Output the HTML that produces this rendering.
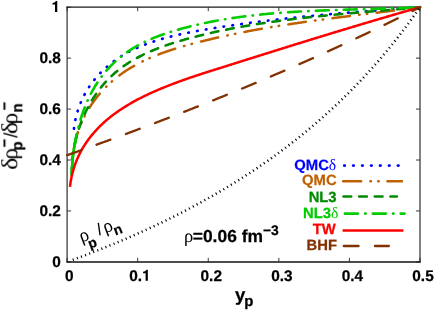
<!DOCTYPE html>
<html><head><meta charset="utf-8"><title>plot</title>
<style>html,body{margin:0;padding:0;background:#fff}svg{display:block}text{font-family:"Liberation Sans", sans-serif;font-weight:bold;text-rendering:geometricPrecision;stroke-width:0.25px;stroke-linejoin:round}.b{stroke:#000}</style></head>
<body>
<svg width="436" height="310" viewBox="0 0 436 310">
<defs><filter id="bl" x="0" y="0" width="436" height="310" filterUnits="userSpaceOnUse"><feGaussianBlur stdDeviation="0.35"/></filter></defs>
<rect width="436" height="310" fill="#fff"/>
<g filter="url(#bl)">
<path d="M67.10,6.60 V262.60 M420.00,6.60 V262.60" fill="none" stroke="#303030" stroke-width="1.2"/>
<path d="M66.50,7.20 H420.60" fill="none" stroke="#1a1a1a" stroke-width="1.3"/>
<path d="M66.50,261.90 H420.60" fill="none" stroke="#101010" stroke-width="1.5"/>
<path d="M67.10,261.90 v-4 M67.10,7.20 v4 M137.68,261.90 v-4 M137.68,7.20 v4 M208.26,261.90 v-4 M208.26,7.20 v4 M278.84,261.90 v-4 M278.84,7.20 v4 M349.42,261.90 v-4 M349.42,7.20 v4 M420.00,261.90 v-4 M420.00,7.20 v4 M67.10,261.90 h4 M420.00,261.90 h-4 M67.10,210.96 h4 M420.00,210.96 h-4 M67.10,160.02 h4 M420.00,160.02 h-4 M67.10,109.08 h4 M420.00,109.08 h-4 M67.10,58.14 h4 M420.00,58.14 h-4 M67.10,7.20 h4 M420.00,7.20 h-4" fill="none" stroke="#222" stroke-width="0.9"/>
<path d="M73.85,129.61 L73.97,128.52 L74.10,127.44 L74.25,126.37 L74.40,125.31 L74.57,124.25 L74.75,123.19 L74.93,122.14 L75.13,121.10 L75.34,120.07 L75.56,119.04 L75.78,118.02 L76.02,117.00 L76.27,115.99 L76.53,114.98 L76.80,113.99 L77.08,112.99 L77.36,112.01 L77.66,111.03 L77.97,110.06 L78.29,109.09 L78.61,108.13 L78.95,107.18 L79.29,106.23 L79.65,105.29 L80.01,104.35 L80.39,103.42 L80.77,102.50 L81.16,101.58 L81.56,100.67 L81.97,99.77 L82.38,98.87 L82.81,97.98 L83.24,97.09 L83.69,96.21 L84.14,95.34 L84.60,94.47 L85.07,93.61 L85.54,92.76 L86.03,91.91 L86.52,91.07 L87.02,90.23 L87.53,89.40 L88.05,88.58 L88.57,87.77 L89.11,86.96 L89.65,86.15 L90.19,85.36 L90.75,84.57 L91.31,83.78 L91.88,83.00 L92.46,82.23 L93.04,81.47 L93.63,80.71 L94.23,79.95 L94.84,79.21 L95.45,78.47 L96.07,77.73 L96.69,77.01 L97.33,76.29 L97.97,75.57 L98.61,74.87 L99.26,74.16 L99.92,73.47 L100.59,72.78 L101.26,72.10 L101.94,71.42 L102.62,70.75 L103.31,70.09 L104.01,69.43 L104.71,68.78 L105.41,68.14 L106.13,67.50 L106.85,66.87 L107.57,66.25 L108.30,65.63 L109.04,65.02 L109.78,64.41 L110.52,63.81 L111.27,63.22 L112.03,62.63 L112.79,62.06 L113.56,61.48 L114.33,60.92 L115.11,60.36 L115.89,59.80 L116.67,59.26 L117.46,58.72 L118.26,58.18 L119.06,57.66 L119.86,57.13 L120.67,56.62 L121.48,56.11 L122.30,55.61 L123.12,55.12 L123.94,54.63 L124.77,54.15 L125.61,53.67 L126.44,53.20 L127.28,52.74 L128.13,52.28 L128.98,51.83 L129.83,51.38 L130.69,50.94 L131.55,50.51 L132.41,50.08 L133.28,49.66 L134.15,49.24 L135.02,48.83 L135.90,48.42 L136.78,48.02 L137.66,47.62 L138.55,47.23 L139.44,46.85 L140.34,46.47 L141.23,46.10 L142.13,45.73 L143.04,45.36 L143.94,45.00 L144.85,44.65 L145.76,44.30 L146.68,43.95 L147.59,43.61 L148.51,43.28 L149.44,42.95 L150.36,42.62 L151.29,42.30 L152.22,41.98 L153.16,41.67 L154.09,41.36 L155.03,41.05 L155.97,40.75 L156.91,40.46 L157.86,40.16 L158.80,39.88 L159.75,39.59 L160.70,39.31 L161.66,39.03 L162.61,38.76 L163.57,38.49 L164.53,38.22 L165.49,37.96 L166.45,37.70 L167.42,37.45 L168.38,37.19 L169.35,36.94 L170.32,36.70 L171.29,36.46 L172.27,36.22 L173.24,35.98 L174.22,35.75 L175.19,35.52 L176.17,35.29 L177.15,35.06 L178.13,34.84 L179.11,34.62 L180.10,34.40 L181.08,34.19 L182.06,33.98 L183.05,33.77 L184.04,33.56 L185.02,33.36 L186.01,33.15 L187.00,32.95 L187.99,32.76 L188.98,32.56 L189.97,32.37 L190.97,32.17 L191.96,31.98 L192.95,31.80 L193.94,31.61 L194.94,31.42 L195.93,31.24 L196.93,31.06 L197.92,30.88 L198.92,30.70 L199.91,30.52 L200.91,30.35 L201.90,30.17 L202.89,30.00 L203.89,29.83 L204.88,29.65 L205.88,29.48 L206.87,29.31 L207.87,29.15 L208.86,28.98 L209.85,28.81 L210.85,28.65 L211.84,28.48 L212.83,28.32 L213.83,28.16 L214.82,27.99 L215.81,27.83 L216.80,27.67 L217.80,27.51 L218.79,27.36 L219.78,27.20 L220.77,27.04 L221.76,26.89 L222.75,26.73 L223.74,26.58 L224.73,26.43 L225.72,26.28 L226.71,26.13 L227.70,25.98 L228.69,25.83 L229.68,25.68 L230.67,25.53 L231.66,25.38 L232.65,25.24 L233.64,25.09 L234.63,24.95 L235.62,24.81 L236.61,24.66 L237.60,24.52 L238.59,24.38 L239.57,24.24 L240.56,24.10 L241.55,23.96 L242.54,23.83 L243.53,23.69 L244.51,23.55 L245.50,23.42 L246.49,23.28 L247.47,23.15 L248.46,23.02 L249.45,22.89 L250.44,22.75 L251.42,22.62 L252.41,22.49 L253.39,22.37 L254.38,22.24 L255.37,22.11 L256.35,21.98 L257.34,21.86 L258.32,21.73 L259.31,21.61 L260.30,21.48 L261.28,21.36 L262.27,21.24 L263.25,21.11 L264.24,20.99 L265.22,20.87 L266.21,20.75 L267.19,20.63 L268.18,20.52 L269.16,20.40 L270.15,20.28 L271.13,20.16 L272.12,20.05 L273.10,19.93 L274.08,19.82 L275.07,19.70 L276.05,19.59 L277.04,19.48 L278.02,19.37 L279.00,19.25 L279.99,19.14 L280.97,19.03 L281.96,18.92 L282.94,18.81 L283.92,18.71 L284.91,18.60 L285.89,18.49 L286.87,18.38 L287.86,18.28 L288.84,18.17 L289.82,18.07 L290.81,17.96 L291.79,17.86 L292.77,17.76 L293.76,17.65 L294.74,17.55 L295.72,17.45 L296.71,17.35 L297.69,17.25 L298.67,17.15 L299.65,17.05 L300.64,16.95 L301.62,16.85 L302.60,16.75 L303.59,16.65 L304.57,16.56 L305.55,16.46 L306.53,16.36 L307.52,16.27 L308.50,16.17 L309.48,16.08 L310.47,15.98 L311.45,15.89 L312.43,15.80 L313.41,15.70 L314.40,15.61 L315.38,15.52 L316.36,15.43 L317.35,15.33 L318.33,15.24 L319.31,15.15 L320.29,15.06 L321.28,14.97 L322.26,14.88 L323.24,14.80 L324.23,14.71 L325.21,14.62 L326.19,14.53 L327.17,14.44 L328.16,14.36 L329.14,14.27 L330.12,14.18 L331.11,14.10 L332.09,14.01 L333.07,13.93 L334.06,13.84 L335.04,13.76 L336.02,13.67 L337.01,13.59 L337.99,13.51 L338.97,13.42 L339.96,13.34 L340.94,13.26 L341.93,13.17 L342.91,13.09 L343.89,13.01 L344.88,12.93 L345.86,12.85 L346.84,12.77 L347.83,12.69 L348.81,12.61 L349.80,12.53 L350.78,12.45 L351.77,12.37 L352.75,12.29 L353.74,12.21 L354.72,12.13 L355.70,12.05 L356.69,11.97 L357.67,11.89 L358.66,11.82 L359.64,11.74 L360.63,11.66 L361.62,11.58 L362.60,11.51 L363.59,11.43 L364.57,11.35 L365.56,11.28 L366.54,11.20 L367.53,11.12 L368.52,11.05 L369.50,10.97 L370.49,10.90 L371.47,10.82 L372.46,10.74 L373.45,10.67 L374.43,10.59 L375.42,10.52 L376.41,10.44 L377.40,10.37 L378.38,10.29 L379.37,10.22 L380.36,10.15 L381.35,10.07 L382.33,10.00 L383.32,9.92 L384.31,9.85 L385.30,9.77 L386.29,9.70 L387.28,9.63 L388.26,9.55 L389.25,9.48 L390.24,9.41 L391.23,9.33 L392.22,9.26 L393.21,9.19 L394.20,9.11 L395.19,9.04 L396.18,8.96 L397.17,8.89 L398.16,8.82 L399.15,8.74 L400.14,8.67 L401.13,8.60 L402.12,8.52 L403.12,8.45 L404.11,8.38 L405.10,8.30 L406.09,8.23 L407.08,8.16 L408.08,8.08 L409.07,8.01 L410.06,7.94 L411.05,7.86 L412.05,7.79 L413.04,7.72 L414.03,7.64 L415.03,7.57 L416.02,7.49 L417.02,7.42 L418.01,7.35 L419.00,7.27 L420.00,7.20" fill="none" stroke="#0000ff" stroke-width="2.70" stroke-linecap="round" stroke-dasharray="0.6 8.35" stroke-dashoffset="8.10"/>
<path d="M72.50,160.00 L72.58,158.91 L72.67,157.83 L72.77,156.75 L72.88,155.67 L73.00,154.59 L73.13,153.52 L73.26,152.45 L73.41,151.39 L73.57,150.32 L73.74,149.27 L73.92,148.21 L74.11,147.16 L74.30,146.12 L74.51,145.08 L74.73,144.04 L74.95,143.01 L75.19,141.98 L75.43,140.95 L75.68,139.93 L75.95,138.91 L76.22,137.90 L76.50,136.89 L76.79,135.88 L77.09,134.88 L77.39,133.88 L77.71,132.89 L78.04,131.90 L78.37,130.92 L78.71,129.94 L79.06,128.97 L79.42,127.99 L79.79,127.03 L80.17,126.07 L80.55,125.11 L80.95,124.16 L81.35,123.21 L81.76,122.27 L82.18,121.33 L82.60,120.39 L83.04,119.47 L83.48,118.54 L83.93,117.62 L84.39,116.71 L84.86,115.80 L85.33,114.89 L85.81,113.99 L86.30,113.10 L86.80,112.21 L87.30,111.32 L87.81,110.44 L88.33,109.57 L88.86,108.70 L89.39,107.84 L89.93,106.98 L90.48,106.12 L91.04,105.27 L91.60,104.43 L92.17,103.59 L92.75,102.76 L93.33,101.93 L93.92,101.11 L94.52,100.30 L95.12,99.49 L95.74,98.68 L96.35,97.88 L96.98,97.09 L97.61,96.30 L98.25,95.51 L98.89,94.74 L99.54,93.97 L100.20,93.20 L100.86,92.44 L101.53,91.69 L102.20,90.94 L102.88,90.20 L103.57,89.46 L104.26,88.73 L104.96,88.01 L105.67,87.29 L106.38,86.58 L107.10,85.87 L107.82,85.17 L108.55,84.48 L109.28,83.79 L110.02,83.11 L110.76,82.43 L111.51,81.76 L112.27,81.10 L113.03,80.44 L113.80,79.79 L114.57,79.15 L115.34,78.51 L116.13,77.88 L116.91,77.26 L117.70,76.64 L118.50,76.03 L119.30,75.42 L120.11,74.83 L120.92,74.24 L121.73,73.65 L122.56,73.07 L123.38,72.50 L124.21,71.93 L125.04,71.37 L125.88,70.82 L126.72,70.27 L127.57,69.73 L128.42,69.19 L129.28,68.67 L130.14,68.14 L131.00,67.62 L131.87,67.11 L132.74,66.60 L133.62,66.10 L134.50,65.61 L135.38,65.12 L136.27,64.63 L137.16,64.15 L138.05,63.68 L138.95,63.21 L139.85,62.75 L140.76,62.29 L141.66,61.83 L142.58,61.38 L143.49,60.94 L144.41,60.50 L145.33,60.07 L146.26,59.64 L147.18,59.22 L148.12,58.80 L149.05,58.38 L149.99,57.97 L150.93,57.56 L151.87,57.16 L152.81,56.77 L153.76,56.37 L154.71,55.98 L155.66,55.60 L156.62,55.22 L157.58,54.84 L158.54,54.47 L159.50,54.10 L160.47,53.74 L161.43,53.38 L162.40,53.02 L163.38,52.67 L164.35,52.32 L165.32,51.97 L166.30,51.63 L167.28,51.29 L168.26,50.96 L169.25,50.63 L170.23,50.30 L171.22,49.97 L172.21,49.65 L173.20,49.33 L174.19,49.02 L175.18,48.70 L176.18,48.40 L177.17,48.09 L178.17,47.78 L179.17,47.48 L180.17,47.19 L181.17,46.89 L182.17,46.60 L183.17,46.31 L184.18,46.02 L185.18,45.73 L186.19,45.45 L187.19,45.17 L188.20,44.89 L189.21,44.62 L190.21,44.34 L191.22,44.07 L192.23,43.80 L193.24,43.53 L194.25,43.27 L195.26,43.00 L196.27,42.74 L197.29,42.48 L198.30,42.22 L199.31,41.96 L200.32,41.71 L201.33,41.45 L202.34,41.20 L203.35,40.95 L204.37,40.70 L205.38,40.45 L206.39,40.21 L207.40,39.96 L208.41,39.72 L209.42,39.48 L210.44,39.24 L211.45,39.00 L212.46,38.76 L213.47,38.52 L214.48,38.29 L215.50,38.05 L216.51,37.82 L217.52,37.59 L218.53,37.36 L219.54,37.13 L220.56,36.91 L221.57,36.68 L222.58,36.46 L223.59,36.24 L224.60,36.02 L225.62,35.80 L226.63,35.58 L227.64,35.36 L228.65,35.14 L229.67,34.93 L230.68,34.72 L231.69,34.50 L232.70,34.29 L233.72,34.08 L234.73,33.88 L235.74,33.67 L236.75,33.46 L237.77,33.26 L238.78,33.05 L239.79,32.85 L240.81,32.65 L241.82,32.45 L242.83,32.25 L243.84,32.05 L244.86,31.86 L245.87,31.66 L246.88,31.47 L247.90,31.28 L248.91,31.08 L249.92,30.89 L250.94,30.70 L251.95,30.51 L252.96,30.33 L253.98,30.14 L254.99,29.95 L256.00,29.77 L257.02,29.59 L258.03,29.40 L259.04,29.22 L260.06,29.04 L261.07,28.86 L262.09,28.68 L263.10,28.51 L264.11,28.33 L265.13,28.16 L266.14,27.98 L267.16,27.81 L268.17,27.63 L269.18,27.46 L270.20,27.29 L271.21,27.12 L272.23,26.95 L273.24,26.79 L274.26,26.62 L275.27,26.45 L276.28,26.29 L277.30,26.12 L278.31,25.96 L279.33,25.79 L280.34,25.63 L281.36,25.47 L282.37,25.31 L283.39,25.15 L284.40,24.99 L285.42,24.83 L286.43,24.68 L287.45,24.52 L288.46,24.36 L289.48,24.21 L290.49,24.05 L291.51,23.90 L292.52,23.75 L293.54,23.60 L294.56,23.44 L295.57,23.29 L296.59,23.14 L297.60,22.99 L298.62,22.84 L299.63,22.70 L300.65,22.55 L301.67,22.40 L302.68,22.26 L303.70,22.11 L304.71,21.96 L305.73,21.82 L306.75,21.68 L307.76,21.53 L308.78,21.39 L309.79,21.25 L310.81,21.11 L311.83,20.96 L312.84,20.82 L313.86,20.68 L314.88,20.54 L315.89,20.41 L316.91,20.27 L317.93,20.13 L318.95,19.99 L319.96,19.85 L320.98,19.72 L322.00,19.58 L323.01,19.45 L324.03,19.31 L325.05,19.18 L326.07,19.04 L327.08,18.91 L328.10,18.77 L329.12,18.64 L330.14,18.51 L331.15,18.37 L332.17,18.24 L333.19,18.11 L334.21,17.98 L335.23,17.85 L336.24,17.72 L337.26,17.59 L338.28,17.46 L339.30,17.33 L340.32,17.20 L341.34,17.07 L342.35,16.94 L343.37,16.81 L344.39,16.68 L345.41,16.55 L346.43,16.42 L347.45,16.29 L348.47,16.17 L349.49,16.04 L350.51,15.91 L351.52,15.78 L352.54,15.66 L353.56,15.53 L354.58,15.40 L355.60,15.28 L356.62,15.15 L357.64,15.02 L358.66,14.90 L359.68,14.77 L360.70,14.65 L361.72,14.52 L362.74,14.39 L363.76,14.27 L364.78,14.14 L365.80,14.02 L366.82,13.89 L367.84,13.77 L368.86,13.64 L369.88,13.52 L370.90,13.39 L371.93,13.26 L372.95,13.14 L373.97,13.01 L374.99,12.89 L376.01,12.76 L377.03,12.64 L378.05,12.51 L379.07,12.39 L380.09,12.26 L381.12,12.13 L382.14,12.01 L383.16,11.88 L384.18,11.76 L385.20,11.63 L386.23,11.50 L387.25,11.38 L388.27,11.25 L389.29,11.12 L390.31,11.00 L391.34,10.87 L392.36,10.74 L393.38,10.61 L394.40,10.49 L395.43,10.36 L396.45,10.23 L397.47,10.10 L398.50,9.97 L399.52,9.84 L400.54,9.71 L401.56,9.58 L402.59,9.45 L403.61,9.32 L404.64,9.19 L405.66,9.06 L406.68,8.93 L407.71,8.80 L408.73,8.67 L409.75,8.54 L410.78,8.41 L411.80,8.27 L412.83,8.14 L413.85,8.01 L414.88,7.87 L415.90,7.74 L416.92,7.60 L417.95,7.47 L418.97,7.33 L420.00,7.20" fill="none" stroke="#c06000" stroke-width="2.50" stroke-linecap="round" stroke-dasharray="17.7 9.3 0.5 7.2 0.5 9.3" stroke-dashoffset="33.73"/>
<path d="M71.81,172.00 L71.80,170.97 L71.81,169.94 L71.82,168.90 L71.85,167.86 L71.88,166.82 L71.92,165.78 L71.97,164.73 L72.03,163.69 L72.10,162.64 L72.18,161.58 L72.27,160.53 L72.36,159.48 L72.47,158.42 L72.58,157.36 L72.70,156.30 L72.83,155.24 L72.97,154.18 L73.12,153.12 L73.28,152.06 L73.44,151.00 L73.62,149.93 L73.80,148.87 L73.99,147.80 L74.19,146.74 L74.40,145.68 L74.61,144.61 L74.84,143.55 L75.07,142.49 L75.31,141.43 L75.56,140.36 L75.82,139.30 L76.09,138.25 L76.37,137.19 L76.65,136.13 L76.94,135.07 L77.24,134.02 L77.55,132.97 L77.86,131.92 L78.19,130.87 L78.52,129.82 L78.86,128.78 L79.21,127.74 L79.57,126.70 L79.93,125.66 L80.30,124.63 L80.68,123.60 L81.07,122.57 L81.47,121.54 L81.87,120.52 L82.28,119.50 L82.70,118.49 L83.13,117.47 L83.56,116.47 L84.01,115.46 L84.46,114.46 L84.91,113.47 L85.38,112.48 L85.85,111.49 L86.33,110.51 L86.82,109.53 L87.32,108.56 L87.82,107.59 L88.33,106.63 L88.85,105.67 L89.37,104.72 L89.91,103.77 L90.45,102.83 L90.99,101.89 L91.55,100.96 L92.11,100.04 L92.68,99.12 L93.25,98.21 L93.84,97.30 L94.43,96.40 L95.02,95.50 L95.63,94.62 L96.24,93.73 L96.86,92.86 L97.48,91.99 L98.12,91.13 L98.76,90.27 L99.40,89.42 L100.06,88.58 L100.72,87.74 L101.38,86.92 L102.06,86.09 L102.74,85.28 L103.42,84.47 L104.12,83.67 L104.82,82.88 L105.52,82.10 L106.24,81.32 L106.96,80.55 L107.68,79.79 L108.42,79.03 L109.16,78.29 L109.90,77.55 L110.66,76.82 L111.42,76.10 L112.18,75.39 L112.95,74.68 L113.73,73.98 L114.52,73.29 L115.31,72.61 L116.10,71.94 L116.90,71.28 L117.71,70.62 L118.53,69.97 L119.35,69.33 L120.17,68.69 L121.00,68.07 L121.84,67.45 L122.68,66.83 L123.53,66.23 L124.38,65.63 L125.24,65.04 L126.10,64.46 L126.97,63.88 L127.85,63.31 L128.72,62.75 L129.61,62.20 L130.50,61.65 L131.39,61.10 L132.29,60.57 L133.19,60.04 L134.09,59.52 L135.01,59.00 L135.92,58.49 L136.84,57.98 L137.76,57.49 L138.69,56.99 L139.62,56.51 L140.56,56.03 L141.50,55.55 L142.44,55.09 L143.39,54.62 L144.34,54.17 L145.30,53.71 L146.26,53.27 L147.22,52.83 L148.18,52.39 L149.15,51.96 L150.13,51.53 L151.10,51.11 L152.08,50.70 L153.06,50.29 L154.05,49.88 L155.03,49.48 L156.02,49.09 L157.02,48.70 L158.01,48.31 L159.01,47.93 L160.01,47.55 L161.01,47.18 L162.02,46.81 L163.03,46.44 L164.04,46.08 L165.05,45.72 L166.07,45.37 L167.08,45.02 L168.10,44.68 L169.12,44.34 L170.14,44.00 L171.17,43.66 L172.19,43.33 L173.22,43.01 L174.25,42.68 L175.28,42.36 L176.31,42.05 L177.35,41.73 L178.38,41.42 L179.42,41.11 L180.45,40.81 L181.49,40.51 L182.53,40.21 L183.57,39.91 L184.61,39.62 L185.65,39.33 L186.69,39.04 L187.74,38.75 L188.78,38.47 L189.82,38.19 L190.87,37.91 L191.91,37.63 L192.95,37.36 L194.00,37.08 L195.04,36.81 L196.09,36.54 L197.13,36.28 L198.18,36.01 L199.23,35.75 L200.27,35.49 L201.32,35.23 L202.36,34.97 L203.41,34.72 L204.46,34.47 L205.51,34.22 L206.55,33.97 L207.60,33.72 L208.65,33.47 L209.70,33.23 L210.75,32.99 L211.80,32.75 L212.85,32.51 L213.89,32.28 L214.94,32.05 L215.99,31.81 L217.04,31.58 L218.09,31.36 L219.15,31.13 L220.20,30.91 L221.25,30.68 L222.30,30.46 L223.35,30.24 L224.40,30.03 L225.45,29.81 L226.51,29.60 L227.56,29.38 L228.61,29.17 L229.66,28.97 L230.72,28.76 L231.77,28.55 L232.82,28.35 L233.88,28.15 L234.93,27.95 L235.98,27.75 L237.04,27.55 L238.09,27.36 L239.15,27.16 L240.20,26.97 L241.26,26.78 L242.31,26.59 L243.37,26.40 L244.42,26.21 L245.48,26.03 L246.54,25.85 L247.59,25.66 L248.65,25.48 L249.71,25.30 L250.76,25.13 L251.82,24.95 L252.88,24.78 L253.93,24.60 L254.99,24.43 L256.05,24.26 L257.11,24.09 L258.17,23.93 L259.22,23.76 L260.28,23.59 L261.34,23.43 L262.40,23.27 L263.46,23.11 L264.52,22.95 L265.58,22.79 L266.64,22.63 L267.69,22.48 L268.75,22.32 L269.81,22.17 L270.87,22.02 L271.93,21.87 L272.99,21.72 L274.05,21.57 L275.12,21.42 L276.18,21.27 L277.24,21.13 L278.30,20.98 L279.36,20.84 L280.42,20.70 L281.48,20.56 L282.54,20.42 L283.60,20.28 L284.67,20.14 L285.73,20.01 L286.79,19.87 L287.85,19.74 L288.91,19.61 L289.98,19.47 L291.04,19.34 L292.10,19.21 L293.17,19.08 L294.23,18.95 L295.29,18.83 L296.35,18.70 L297.42,18.58 L298.48,18.45 L299.54,18.33 L300.61,18.20 L301.67,18.08 L302.73,17.96 L303.80,17.84 L304.86,17.72 L305.93,17.60 L306.99,17.49 L308.06,17.37 L309.12,17.25 L310.18,17.14 L311.25,17.02 L312.31,16.91 L313.38,16.80 L314.44,16.68 L315.51,16.57 L316.57,16.46 L317.64,16.35 L318.70,16.24 L319.77,16.13 L320.83,16.02 L321.90,15.92 L322.96,15.81 L324.03,15.70 L325.09,15.60 L326.16,15.49 L327.23,15.39 L328.29,15.29 L329.36,15.18 L330.42,15.08 L331.49,14.98 L332.55,14.88 L333.62,14.77 L334.69,14.67 L335.75,14.57 L336.82,14.47 L337.88,14.37 L338.95,14.28 L340.02,14.18 L341.08,14.08 L342.15,13.98 L343.22,13.89 L344.28,13.79 L345.35,13.69 L346.42,13.60 L347.48,13.50 L348.55,13.41 L349.62,13.31 L350.68,13.22 L351.75,13.12 L352.82,13.03 L353.88,12.93 L354.95,12.84 L356.02,12.75 L357.08,12.66 L358.15,12.56 L359.22,12.47 L360.28,12.38 L361.35,12.29 L362.42,12.19 L363.48,12.10 L364.55,12.01 L365.62,11.92 L366.68,11.83 L367.75,11.74 L368.82,11.65 L369.89,11.56 L370.95,11.47 L372.02,11.38 L373.09,11.29 L374.15,11.20 L375.22,11.10 L376.29,11.01 L377.35,10.92 L378.42,10.83 L379.49,10.74 L380.55,10.65 L381.62,10.56 L382.69,10.47 L383.75,10.38 L384.82,10.29 L385.89,10.20 L386.95,10.11 L388.02,10.02 L389.09,9.93 L390.15,9.84 L391.22,9.75 L392.29,9.66 L393.35,9.57 L394.42,9.47 L395.49,9.38 L396.55,9.29 L397.62,9.20 L398.69,9.11 L399.75,9.01 L400.82,8.92 L401.88,8.83 L402.95,8.73 L404.02,8.64 L405.08,8.55 L406.15,8.45 L407.21,8.36 L408.28,8.26 L409.35,8.17 L410.41,8.07 L411.48,7.98 L412.54,7.88 L413.61,7.78 L414.67,7.69 L415.74,7.59 L416.80,7.49 L417.87,7.39 L418.93,7.30 L420.00,7.20" fill="none" stroke="#008a00" stroke-width="2.60" stroke-linecap="round" stroke-dasharray="7.7 7.95" stroke-dashoffset="2.89"/>
<path d="M71.70,175.00 L71.74,173.96 L71.78,172.91 L71.83,171.86 L71.88,170.81 L71.93,169.75 L71.99,168.69 L72.06,167.63 L72.13,166.56 L72.20,165.49 L72.29,164.42 L72.37,163.35 L72.46,162.27 L72.56,161.19 L72.66,160.11 L72.77,159.02 L72.88,157.94 L73.00,156.85 L73.13,155.76 L73.26,154.66 L73.39,153.57 L73.53,152.47 L73.68,151.38 L73.83,150.28 L73.99,149.18 L74.15,148.08 L74.32,146.98 L74.50,145.88 L74.68,144.77 L74.86,143.67 L75.06,142.57 L75.26,141.46 L75.46,140.36 L75.67,139.26 L75.89,138.15 L76.11,137.05 L76.34,135.94 L76.58,134.84 L76.82,133.74 L77.07,132.64 L77.32,131.54 L77.58,130.44 L77.85,129.34 L78.12,128.24 L78.40,127.14 L78.69,126.05 L78.98,124.95 L79.28,123.86 L79.59,122.77 L79.90,121.68 L80.22,120.60 L80.55,119.51 L80.88,118.43 L81.22,117.35 L81.57,116.27 L81.93,115.20 L82.29,114.13 L82.66,113.06 L83.03,111.99 L83.41,110.93 L83.80,109.87 L84.20,108.82 L84.60,107.76 L85.01,106.72 L85.43,105.67 L85.86,104.63 L86.29,103.59 L86.73,102.56 L87.18,101.53 L87.63,100.50 L88.09,99.48 L88.56,98.47 L89.04,97.46 L89.53,96.45 L90.02,95.45 L90.52,94.45 L91.03,93.46 L91.54,92.48 L92.07,91.50 L92.60,90.52 L93.14,89.55 L93.68,88.59 L94.24,87.63 L94.80,86.68 L95.37,85.74 L95.95,84.80 L96.54,83.86 L97.13,82.94 L97.74,82.02 L98.35,81.11 L98.97,80.20 L99.60,79.30 L100.23,78.41 L100.88,77.53 L101.53,76.65 L102.19,75.78 L102.86,74.92 L103.54,74.06 L104.23,73.22 L104.92,72.38 L105.63,71.55 L106.34,70.72 L107.06,69.91 L107.78,69.10 L108.52,68.30 L109.26,67.50 L110.01,66.72 L110.77,65.94 L111.53,65.17 L112.30,64.41 L113.08,63.65 L113.87,62.91 L114.66,62.17 L115.46,61.44 L116.26,60.71 L117.08,60.00 L117.90,59.29 L118.72,58.59 L119.56,57.90 L120.39,57.21 L121.24,56.54 L122.09,55.87 L122.95,55.21 L123.81,54.55 L124.68,53.91 L125.56,53.27 L126.44,52.64 L127.32,52.02 L128.21,51.41 L129.11,50.80 L130.01,50.20 L130.92,49.61 L131.84,49.03 L132.75,48.46 L133.68,47.89 L134.60,47.33 L135.54,46.78 L136.47,46.24 L137.42,45.71 L138.36,45.18 L139.31,44.66 L140.27,44.15 L141.23,43.65 L142.19,43.16 L143.16,42.67 L144.13,42.19 L145.11,41.72 L146.08,41.26 L147.07,40.80 L148.05,40.35 L149.04,39.91 L150.04,39.47 L151.03,39.04 L152.03,38.62 L153.04,38.20 L154.04,37.79 L155.05,37.39 L156.06,36.99 L157.08,36.60 L158.10,36.21 L159.12,35.83 L160.14,35.45 L161.16,35.08 L162.19,34.72 L163.22,34.36 L164.25,34.00 L165.28,33.65 L166.32,33.30 L167.36,32.96 L168.40,32.62 L169.44,32.29 L170.48,31.96 L171.52,31.64 L172.57,31.31 L173.62,31.00 L174.66,30.68 L175.71,30.37 L176.76,30.06 L177.81,29.76 L178.87,29.46 L179.92,29.16 L180.97,28.87 L182.03,28.57 L183.08,28.29 L184.14,28.00 L185.20,27.72 L186.26,27.44 L187.32,27.16 L188.38,26.89 L189.44,26.62 L190.50,26.35 L191.57,26.09 L192.63,25.83 L193.70,25.57 L194.76,25.31 L195.83,25.06 L196.90,24.81 L197.97,24.56 L199.04,24.32 L200.11,24.08 L201.18,23.84 L202.25,23.60 L203.32,23.37 L204.40,23.14 L205.47,22.91 L206.55,22.69 L207.62,22.47 L208.70,22.25 L209.78,22.03 L210.85,21.82 L211.93,21.60 L213.01,21.40 L214.09,21.19 L215.17,20.99 L216.26,20.78 L217.34,20.59 L218.42,20.39 L219.51,20.20 L220.59,20.01 L221.68,19.82 L222.76,19.63 L223.85,19.45 L224.94,19.27 L226.03,19.09 L227.11,18.91 L228.20,18.73 L229.29,18.56 L230.38,18.39 L231.48,18.23 L232.57,18.06 L233.66,17.90 L234.75,17.74 L235.85,17.58 L236.94,17.42 L238.03,17.27 L239.13,17.12 L240.23,16.97 L241.32,16.82 L242.42,16.67 L243.52,16.53 L244.61,16.39 L245.71,16.25 L246.81,16.11 L247.91,15.97 L249.01,15.84 L250.11,15.71 L251.21,15.58 L252.31,15.45 L253.41,15.33 L254.51,15.20 L255.62,15.08 L256.72,14.96 L257.82,14.84 L258.93,14.72 L260.03,14.61 L261.13,14.50 L262.24,14.38 L263.34,14.27 L264.45,14.17 L265.56,14.06 L266.66,13.96 L267.77,13.85 L268.88,13.75 L269.98,13.65 L271.09,13.55 L272.20,13.46 L273.31,13.36 L274.41,13.27 L275.52,13.18 L276.63,13.09 L277.74,13.00 L278.85,12.91 L279.96,12.83 L281.07,12.74 L282.18,12.66 L283.29,12.58 L284.40,12.50 L285.51,12.42 L286.62,12.34 L287.73,12.27 L288.84,12.19 L289.95,12.12 L291.07,12.04 L292.18,11.97 L293.29,11.90 L294.40,11.84 L295.51,11.77 L296.63,11.70 L297.74,11.64 L298.85,11.57 L299.96,11.51 L301.08,11.45 L302.19,11.39 L303.30,11.33 L304.41,11.27 L305.53,11.21 L306.64,11.15 L307.75,11.10 L308.87,11.04 L309.98,10.99 L311.09,10.94 L312.21,10.89 L313.32,10.84 L314.43,10.79 L315.55,10.74 L316.66,10.69 L317.77,10.64 L318.88,10.59 L320.00,10.55 L321.11,10.50 L322.22,10.46 L323.34,10.41 L324.45,10.37 L325.56,10.33 L326.67,10.29 L327.79,10.25 L328.90,10.21 L330.01,10.17 L331.12,10.13 L332.23,10.09 L333.34,10.05 L334.46,10.01 L335.57,9.98 L336.68,9.94 L337.79,9.90 L338.90,9.87 L340.01,9.83 L341.12,9.80 L342.23,9.76 L343.34,9.73 L344.45,9.70 L345.56,9.66 L346.67,9.63 L347.78,9.60 L348.89,9.57 L350.00,9.53 L351.10,9.50 L352.21,9.47 L353.32,9.44 L354.43,9.41 L355.53,9.38 L356.64,9.35 L357.75,9.32 L358.85,9.29 L359.96,9.26 L361.06,9.23 L362.17,9.20 L363.27,9.16 L364.38,9.13 L365.48,9.10 L366.58,9.07 L367.69,9.04 L368.79,9.01 L369.89,8.98 L370.99,8.95 L372.10,8.92 L373.20,8.89 L374.30,8.86 L375.40,8.83 L376.50,8.80 L377.59,8.77 L378.69,8.74 L379.79,8.71 L380.89,8.67 L381.99,8.64 L383.08,8.61 L384.18,8.58 L385.27,8.54 L386.37,8.51 L387.46,8.48 L388.56,8.44 L389.65,8.41 L390.74,8.37 L391.83,8.34 L392.93,8.30 L394.02,8.26 L395.11,8.23 L396.20,8.19 L397.29,8.15 L398.37,8.11 L399.46,8.07 L400.55,8.03 L401.64,7.99 L402.72,7.95 L403.81,7.91 L404.89,7.87 L405.98,7.83 L407.06,7.78 L408.14,7.74 L409.22,7.69 L410.30,7.65 L411.38,7.60 L412.46,7.55 L413.54,7.51 L414.62,7.46 L415.70,7.41 L416.77,7.36 L417.85,7.30 L418.92,7.25 L420.00,7.20" fill="none" stroke="#00cc00" stroke-width="2.60" stroke-linecap="round" stroke-dasharray="13 7.2 0.5 7.2" stroke-dashoffset="27.49"/>
<path d="M71.70,175.00 L71.74,173.96 L71.78,172.91 L71.83,171.86 L71.88,170.81 L71.93,169.75 L71.99,168.69 L72.06,167.63 L72.13,166.56 L72.20,165.49 L72.29,164.42 L72.37,163.35 L72.46,162.27 L72.56,161.19 L72.66,160.11 L72.77,159.02 L72.88,157.94 L73.00,156.85 L73.13,155.76 L73.26,154.66 L73.39,153.57 L73.53,152.47 L73.68,151.38 L73.83,150.28 L73.99,149.18 L74.15,148.08 L74.32,146.98 L74.50,145.88 L74.68,144.77 L74.86,143.67 L75.06,142.57 L75.26,141.46 L75.46,140.36 L75.67,139.26 L75.89,138.15 L76.11,137.05 L76.34,135.94 L76.58,134.84" fill="none" stroke="#00cc00" stroke-width="2.60" stroke-linecap="round"/>
<path d="M70.00,186.80 L70.12,185.69 L70.26,184.59 L70.41,183.49 L70.56,182.40 L70.74,181.32 L70.92,180.24 L71.11,179.17 L71.32,178.10 L71.53,177.04 L71.76,175.99 L72.00,174.94 L72.24,173.90 L72.50,172.86 L72.77,171.83 L73.05,170.81 L73.35,169.79 L73.65,168.78 L73.96,167.78 L74.28,166.78 L74.61,165.79 L74.96,164.80 L75.31,163.82 L75.67,162.85 L76.05,161.88 L76.43,160.92 L76.82,159.96 L77.22,159.01 L77.63,158.07 L78.05,157.13 L78.48,156.20 L78.92,155.28 L79.37,154.36 L79.83,153.44 L80.30,152.54 L80.77,151.64 L81.26,150.74 L81.75,149.85 L82.25,148.97 L82.76,148.09 L83.28,147.22 L83.81,146.36 L84.35,145.50 L84.89,144.64 L85.45,143.80 L86.01,142.96 L86.58,142.12 L87.15,141.29 L87.74,140.47 L88.33,139.65 L88.93,138.84 L89.54,138.03 L90.15,137.24 L90.78,136.44 L91.41,135.65 L92.05,134.87 L92.69,134.10 L93.34,133.33 L94.00,132.56 L94.67,131.81 L95.34,131.05 L96.02,130.31 L96.71,129.57 L97.40,128.83 L98.10,128.10 L98.81,127.38 L99.52,126.66 L100.24,125.95 L100.96,125.25 L101.69,124.55 L102.43,123.85 L103.17,123.17 L103.92,122.48 L104.68,121.81 L105.44,121.14 L106.21,120.47 L106.98,119.81 L107.76,119.16 L108.54,118.51 L109.33,117.87 L110.12,117.23 L110.92,116.60 L111.72,115.97 L112.53,115.35 L113.34,114.73 L114.16,114.12 L114.99,113.52 L115.81,112.92 L116.65,112.32 L117.48,111.73 L118.32,111.15 L119.17,110.57 L120.02,109.99 L120.87,109.42 L121.73,108.86 L122.59,108.29 L123.46,107.74 L124.33,107.19 L125.20,106.64 L126.08,106.10 L126.96,105.56 L127.84,105.03 L128.73,104.50 L129.62,103.98 L130.51,103.46 L131.41,102.94 L132.31,102.43 L133.21,101.92 L134.12,101.42 L135.03,100.92 L135.94,100.43 L136.86,99.94 L137.77,99.45 L138.69,98.97 L139.61,98.50 L140.54,98.02 L141.46,97.55 L142.39,97.09 L143.32,96.62 L144.26,96.16 L145.19,95.71 L146.13,95.26 L147.06,94.81 L148.00,94.37 L148.94,93.93 L149.89,93.49 L150.83,93.06 L151.78,92.63 L152.72,92.20 L153.67,91.78 L154.62,91.36 L155.57,90.94 L156.52,90.53 L157.47,90.12 L158.43,89.71 L159.38,89.30 L160.33,88.90 L161.29,88.50 L162.24,88.11 L163.20,87.72 L164.15,87.33 L165.11,86.94 L166.07,86.56 L167.03,86.17 L167.98,85.80 L168.94,85.42 L169.90,85.05 L170.86,84.67 L171.83,84.30 L172.79,83.94 L173.75,83.57 L174.71,83.21 L175.68,82.85 L176.64,82.50 L177.60,82.14 L178.57,81.79 L179.54,81.44 L180.50,81.09 L181.47,80.74 L182.44,80.39 L183.40,80.05 L184.37,79.71 L185.34,79.37 L186.31,79.03 L187.28,78.69 L188.25,78.36 L189.22,78.03 L190.20,77.69 L191.17,77.36 L192.14,77.03 L193.11,76.71 L194.09,76.38 L195.06,76.06 L196.04,75.73 L197.01,75.41 L197.99,75.09 L198.96,74.77 L199.94,74.45 L200.92,74.13 L201.89,73.81 L202.87,73.49 L203.85,73.18 L204.83,72.86 L205.81,72.55 L206.79,72.23 L207.77,71.92 L208.75,71.61 L209.73,71.30 L210.71,70.98 L211.69,70.67 L212.67,70.36 L213.66,70.05 L214.64,69.74 L215.62,69.43 L216.61,69.12 L217.59,68.81 L218.58,68.50 L219.56,68.19 L220.55,67.88 L221.53,67.57 L222.52,67.27 L223.50,66.96 L224.49,66.65 L225.48,66.34 L226.47,66.02 L227.45,65.71 L228.44,65.40 L229.43,65.09 L230.42,64.78 L231.41,64.47 L232.40,64.16 L233.39,63.85 L234.38,63.54 L235.37,63.22 L236.36,62.91 L237.35,62.60 L238.34,62.29 L239.33,61.98 L240.32,61.66 L241.32,61.35 L242.31,61.04 L243.30,60.73 L244.29,60.42 L245.29,60.10 L246.28,59.79 L247.27,59.48 L248.27,59.16 L249.26,58.85 L250.26,58.54 L251.25,58.23 L252.25,57.91 L253.24,57.60 L254.24,57.29 L255.23,56.97 L256.23,56.66 L257.22,56.35 L258.22,56.03 L259.22,55.72 L260.21,55.41 L261.21,55.10 L262.21,54.78 L263.20,54.47 L264.20,54.16 L265.20,53.84 L266.20,53.53 L267.19,53.22 L268.19,52.91 L269.19,52.59 L270.19,52.28 L271.19,51.97 L272.19,51.66 L273.18,51.34 L274.18,51.03 L275.18,50.72 L276.18,50.41 L277.18,50.09 L278.18,49.78 L279.18,49.47 L280.18,49.16 L281.18,48.85 L282.18,48.54 L283.18,48.22 L284.18,47.91 L285.18,47.60 L286.18,47.29 L287.18,46.98 L288.18,46.67 L289.18,46.36 L290.18,46.04 L291.18,45.73 L292.18,45.42 L293.18,45.11 L294.18,44.80 L295.18,44.49 L296.18,44.18 L297.18,43.87 L298.18,43.56 L299.18,43.25 L300.18,42.94 L301.18,42.63 L302.18,42.32 L303.18,42.01 L304.19,41.70 L305.19,41.40 L306.19,41.09 L307.19,40.78 L308.19,40.47 L309.19,40.16 L310.19,39.85 L311.19,39.54 L312.19,39.24 L313.19,38.93 L314.19,38.62 L315.19,38.31 L316.19,38.01 L317.19,37.70 L318.19,37.39 L319.19,37.09 L320.19,36.78 L321.19,36.47 L322.19,36.17 L323.19,35.86 L324.19,35.56 L325.19,35.25 L326.19,34.94 L327.19,34.64 L328.19,34.33 L329.19,34.03 L330.18,33.72 L331.18,33.42 L332.18,33.12 L333.18,32.81 L334.18,32.51 L335.18,32.21 L336.18,31.90 L337.17,31.60 L338.17,31.30 L339.17,30.99 L340.17,30.69 L341.16,30.39 L342.16,30.09 L343.16,29.79 L344.15,29.48 L345.15,29.18 L346.15,28.88 L347.14,28.58 L348.14,28.28 L349.14,27.98 L350.13,27.68 L351.13,27.38 L352.12,27.08 L353.12,26.78 L354.11,26.48 L355.11,26.19 L356.10,25.89 L357.09,25.59 L358.09,25.29 L359.08,24.99 L360.07,24.70 L361.07,24.40 L362.06,24.10 L363.05,23.81 L364.04,23.51 L365.04,23.21 L366.03,22.92 L367.02,22.62 L368.01,22.33 L369.00,22.03 L369.99,21.74 L370.98,21.45 L371.97,21.15 L372.96,20.86 L373.95,20.57 L374.94,20.27 L375.93,19.98 L376.92,19.69 L377.90,19.40 L378.89,19.11 L379.88,18.82 L380.86,18.52 L381.85,18.23 L382.84,17.94 L383.82,17.65 L384.81,17.37 L385.79,17.08 L386.78,16.79 L387.76,16.50 L388.75,16.21 L389.73,15.92 L390.71,15.64 L391.69,15.35 L392.68,15.06 L393.66,14.78 L394.64,14.49 L395.62,14.21 L396.60,13.92 L397.58,13.64 L398.56,13.35 L399.54,13.07 L400.52,12.79 L401.50,12.50 L402.48,12.22 L403.45,11.94 L404.43,11.66 L405.41,11.37 L406.38,11.09 L407.36,10.81 L408.33,10.53 L409.31,10.25 L410.28,9.97 L411.26,9.69 L412.23,9.41 L413.20,9.14 L414.18,8.86 L415.15,8.58 L416.12,8.30 L417.09,8.03 L418.06,7.75 L419.03,7.48 L420.00,7.20" fill="none" stroke="#ff0000" stroke-width="2.50"/>
<path d="M66.00,155.60 L66.91,155.28 L67.82,154.96 L68.72,154.64 L69.63,154.31 L70.54,153.99 L71.45,153.67 L72.35,153.35 L73.26,153.03 L74.17,152.71 L75.07,152.38 L75.98,152.06 L76.89,151.74 L77.80,151.41 L78.70,151.09 L79.61,150.77 L80.52,150.44 L81.42,150.12 L82.33,149.80 L83.24,149.47 L84.14,149.15 L85.05,148.82 L85.95,148.50 L86.86,148.17 L87.77,147.85 L88.67,147.52 L89.58,147.20 L90.49,146.87 L91.39,146.54 L92.30,146.22 L93.20,145.89 L94.11,145.56 L95.01,145.24 L95.92,144.91 L96.83,144.58 L97.73,144.25 L98.64,143.93 L99.54,143.60 L100.45,143.27 L101.35,142.94 L102.26,142.61 L103.16,142.28 L104.07,141.96 L104.97,141.63 L105.88,141.30 L106.78,140.97 L107.68,140.64 L108.59,140.31 L109.49,139.98 L110.40,139.65 L111.30,139.31 L112.21,138.98 L113.11,138.65 L114.01,138.32 L114.92,137.99 L115.82,137.66 L116.73,137.33 L117.63,136.99 L118.53,136.66 L119.44,136.33 L120.34,135.99 L121.24,135.66 L122.15,135.33 L123.05,134.99 L123.95,134.66 L124.86,134.33 L125.76,133.99 L126.66,133.66 L127.56,133.32 L128.47,132.99 L129.37,132.65 L130.27,132.32 L131.17,131.98 L132.08,131.65 L132.98,131.31 L133.88,130.97 L134.78,130.64 L135.69,130.30 L136.59,129.96 L137.49,129.63 L138.39,129.29 L139.29,128.95 L140.19,128.61 L141.10,128.27 L142.00,127.94 L142.90,127.60 L143.80,127.26 L144.70,126.92 L145.60,126.58 L146.50,126.24 L147.40,125.90 L148.30,125.56 L149.20,125.22 L150.11,124.88 L151.01,124.54 L151.91,124.20 L152.81,123.86 L153.71,123.51 L154.61,123.17 L155.51,122.83 L156.41,122.49 L157.31,122.15 L158.21,121.80 L159.11,121.46 L160.01,121.12 L160.90,120.77 L161.80,120.43 L162.70,120.09 L163.60,119.74 L164.50,119.40 L165.40,119.05 L166.30,118.71 L167.20,118.36 L168.10,118.02 L169.00,117.67 L169.89,117.33 L170.79,116.98 L171.69,116.63 L172.59,116.29 L173.49,115.94 L174.39,115.59 L175.28,115.25 L176.18,114.90 L177.08,114.55 L177.98,114.20 L178.87,113.85 L179.77,113.50 L180.67,113.16 L181.57,112.81 L182.46,112.46 L183.36,112.11 L184.26,111.76 L185.15,111.41 L186.05,111.06 L186.95,110.71 L187.84,110.36 L188.74,110.00 L189.64,109.65 L190.53,109.30 L191.43,108.95 L192.32,108.60 L193.22,108.24 L194.12,107.89 L195.01,107.54 L195.91,107.19 L196.80,106.83 L197.70,106.48 L198.59,106.12 L199.49,105.77 L200.38,105.41 L201.28,105.06 L202.17,104.70 L203.07,104.35 L203.96,103.99 L204.86,103.64 L205.75,103.28 L206.64,102.93 L207.54,102.57 L208.43,102.21 L209.33,101.85 L210.22,101.50 L211.11,101.14 L212.01,100.78 L212.90,100.42 L213.79,100.06 L214.69,99.71 L215.58,99.35 L216.47,98.99 L217.37,98.63 L218.26,98.27 L219.15,97.91 L220.04,97.55 L220.94,97.19 L221.83,96.82 L222.72,96.46 L223.61,96.10 L224.51,95.74 L225.40,95.38 L226.29,95.01 L227.18,94.65 L228.07,94.29 L228.96,93.93 L229.85,93.56 L230.75,93.20 L231.64,92.83 L232.53,92.47 L233.42,92.10 L234.31,91.74 L235.20,91.37 L236.09,91.01 L236.98,90.64 L237.87,90.28 L238.76,89.91 L239.65,89.54 L240.54,89.18 L241.43,88.81 L242.32,88.44 L243.21,88.07 L244.10,87.71 L244.99,87.34 L245.88,86.97 L246.77,86.60 L247.66,86.23 L248.54,85.86 L249.43,85.49 L250.32,85.12 L251.21,84.75 L252.10,84.38 L252.99,84.01 L253.87,83.64 L254.76,83.27 L255.65,82.89 L256.54,82.52 L257.43,82.15 L258.31,81.78 L259.20,81.40 L260.09,81.03 L260.97,80.66 L261.86,80.28 L262.75,79.91 L263.63,79.53 L264.52,79.16 L265.41,78.78 L266.29,78.41 L267.18,78.03 L268.07,77.66 L268.95,77.28 L269.84,76.90 L270.72,76.53 L271.61,76.15 L272.49,75.77 L273.38,75.39 L274.26,75.01 L275.15,74.64 L276.03,74.26 L276.92,73.88 L277.80,73.50 L278.69,73.12 L279.57,72.74 L280.46,72.36 L281.34,71.98 L282.22,71.60 L283.11,71.22 L283.99,70.83 L284.87,70.45 L285.76,70.07 L286.64,69.69 L287.52,69.30 L288.41,68.92 L289.29,68.54 L290.17,68.15 L291.05,67.77 L291.94,67.39 L292.82,67.00 L293.70,66.62 L294.58,66.23 L295.47,65.84 L296.35,65.46 L297.23,65.07 L298.11,64.69 L298.99,64.30 L299.87,63.91 L300.75,63.52 L301.63,63.14 L302.52,62.75 L303.40,62.36 L304.28,61.97 L305.16,61.58 L306.04,61.19 L306.92,60.80 L307.80,60.41 L308.68,60.02 L309.56,59.63 L310.44,59.24 L311.31,58.85 L312.19,58.46 L313.07,58.06 L313.95,57.67 L314.83,57.28 L315.71,56.89 L316.59,56.49 L317.47,56.10 L318.34,55.70 L319.22,55.31 L320.10,54.92 L320.98,54.52 L321.85,54.12 L322.73,53.73 L323.61,53.33 L324.49,52.94 L325.36,52.54 L326.24,52.14 L327.12,51.75 L327.99,51.35 L328.87,50.95 L329.75,50.55 L330.62,50.15 L331.50,49.75 L332.37,49.35 L333.25,48.95 L334.12,48.55 L335.00,48.15 L335.88,47.75 L336.75,47.35 L337.63,46.95 L338.50,46.55 L339.37,46.15 L340.25,45.74 L341.12,45.34 L342.00,44.94 L342.87,44.54 L343.74,44.13 L344.62,43.73 L345.49,43.32 L346.37,42.92 L347.24,42.51 L348.11,42.11 L348.98,41.70 L349.86,41.30 L350.73,40.89 L351.60,40.48 L352.47,40.08 L353.35,39.67 L354.22,39.26 L355.09,38.85 L355.96,38.44 L356.83,38.03 L357.70,37.62 L358.58,37.21 L359.45,36.80 L360.32,36.39 L361.19,35.98 L362.06,35.57 L362.93,35.16 L363.80,34.75 L364.67,34.34 L365.54,33.92 L366.41,33.51 L367.28,33.10 L368.15,32.68 L369.02,32.27 L369.89,31.86 L370.75,31.44 L371.62,31.03 L372.49,30.61 L373.36,30.20 L374.23,29.78 L375.10,29.36 L375.96,28.95 L376.83,28.53 L377.70,28.11 L378.57,27.69 L379.43,27.28 L380.30,26.86 L381.17,26.44 L382.03,26.02 L382.90,25.60 L383.77,25.18 L384.63,24.76 L385.50,24.34 L386.37,23.92 L387.23,23.49 L388.10,23.07 L388.96,22.65 L389.83,22.23 L390.69,21.81 L391.56,21.38 L392.42,20.96 L393.29,20.53 L394.15,20.11 L395.01,19.68 L395.88,19.26 L396.74,18.83 L397.61,18.41 L398.47,17.98 L399.33,17.55 L400.20,17.13 L401.06,16.70 L401.92,16.27 L402.78,15.84 L403.65,15.42 L404.51,14.99 L405.37,14.56 L406.23,14.13 L407.10,13.70 L407.96,13.27 L408.82,12.84 L409.68,12.40 L410.54,11.97 L411.40,11.54 L412.26,11.11 L413.12,10.68 L413.98,10.24 L414.84,9.81 L415.70,9.38 L416.56,8.94 L417.42,8.51 L418.28,8.07 L419.14,7.64 L420.00,7.20" fill="none" stroke="#803000" stroke-width="2.30" stroke-linecap="round" stroke-dasharray="14.8 16.4" stroke-dashoffset="30.00"/>
<path d="M72.75,259.85 L73.91,259.42 L75.07,258.99 L76.23,258.56 L77.39,258.13 L78.55,257.70 L79.71,257.26 L80.88,256.83 L82.04,256.39 L83.20,255.95 L84.36,255.52 L85.52,255.07 L86.68,254.63 L87.84,254.19 L89.01,253.74 L90.17,253.29 L91.33,252.85 L92.49,252.40 L93.65,251.94 L94.81,251.49 L95.97,251.04 L97.14,250.58 L98.30,250.12 L99.46,249.66 L100.62,249.20 L101.78,248.74 L102.94,248.27 L104.10,247.81 L105.27,247.34 L106.43,246.87 L107.59,246.40 L108.75,245.93 L109.91,245.45 L111.07,244.98 L112.23,244.50 L113.39,244.02 L114.56,243.54 L115.72,243.06 L116.88,242.57 L118.04,242.09 L119.20,241.60 L120.36,241.11 L121.52,240.62 L122.69,240.13 L123.85,239.63 L125.01,239.13 L126.17,238.64 L127.33,238.14 L128.49,237.63 L129.65,237.13 L130.82,236.63 L131.98,236.12 L133.14,235.61 L134.30,235.10 L135.46,234.59 L136.62,234.07 L137.78,233.55 L138.95,233.04 L140.11,232.51 L141.27,231.99 L142.43,231.47 L143.59,230.94 L144.75,230.41 L145.91,229.88 L147.07,229.35 L148.24,228.82 L149.40,228.28 L150.56,227.74 L151.72,227.20 L152.88,226.66 L154.04,226.12 L155.20,225.57 L156.37,225.02 L157.53,224.47 L158.69,223.92 L159.85,223.37 L161.01,222.81 L162.17,222.25 L163.33,221.69 L164.50,221.13 L165.66,220.56 L166.82,219.99 L167.98,219.42 L169.14,218.85 L170.30,218.28 L171.46,217.70 L172.63,217.12 L173.79,216.54 L174.95,215.96 L176.11,215.38 L177.27,214.79 L178.43,214.20 L179.59,213.61 L180.76,213.01 L181.92,212.42 L183.08,211.82 L184.24,211.22 L185.40,210.61 L186.56,210.01 L187.72,209.40 L188.88,208.79 L190.05,208.17 L191.21,207.56 L192.37,206.94 L193.53,206.32 L194.69,205.70 L195.85,205.07 L197.01,204.44 L198.18,203.81 L199.34,203.18 L200.50,202.54 L201.66,201.90 L202.82,201.26 L203.98,200.62 L205.14,199.97 L206.31,199.32 L207.47,198.67 L208.63,198.02 L209.79,197.36 L210.95,196.70 L212.11,196.04 L213.27,195.37 L214.44,194.70 L215.60,194.03 L216.76,193.36 L217.92,192.68 L219.08,192.00 L220.24,191.32 L221.40,190.64 L222.56,189.95 L223.73,189.26 L224.89,188.56 L226.05,187.87 L227.21,187.17 L228.37,186.47 L229.53,185.76 L230.69,185.05 L231.86,184.34 L233.02,183.63 L234.18,182.91 L235.34,182.19 L236.50,181.46 L237.66,180.74 L238.82,180.00 L239.99,179.27 L241.15,178.53 L242.31,177.79 L243.47,177.05 L244.63,176.30 L245.79,175.56 L246.95,174.80 L248.12,174.05 L249.28,173.29 L250.44,172.52 L251.60,171.76 L252.76,170.99 L253.92,170.21 L255.08,169.44 L256.24,168.66 L257.41,167.87 L258.57,167.08 L259.73,166.29 L260.89,165.50 L262.05,164.70 L263.21,163.90 L264.37,163.09 L265.54,162.28 L266.70,161.47 L267.86,160.65 L269.02,159.83 L270.18,159.01 L271.34,158.18 L272.50,157.35 L273.67,156.51 L274.83,155.67 L275.99,154.83 L277.15,153.98 L278.31,153.13 L279.47,152.28 L280.63,151.42 L281.80,150.55 L282.96,149.69 L284.12,148.81 L285.28,147.94 L286.44,147.06 L287.60,146.17 L288.76,145.28 L289.93,144.39 L291.09,143.49 L292.25,142.59 L293.41,141.69 L294.57,140.78 L295.73,139.86 L296.89,138.94 L298.05,138.02 L299.22,137.09 L300.38,136.16 L301.54,135.22 L302.70,134.28 L303.86,133.33 L305.02,132.38 L306.18,131.42 L307.35,130.46 L308.51,129.50 L309.67,128.53 L310.83,127.55 L311.99,126.57 L313.15,125.59 L314.31,124.60 L315.48,123.60 L316.64,122.60 L317.80,121.60 L318.96,120.58 L320.12,119.57 L321.28,118.55 L322.44,117.52 L323.61,116.49 L324.77,115.45 L325.93,114.41 L327.09,113.36 L328.25,112.31 L329.41,111.25 L330.57,110.19 L331.73,109.12 L332.90,108.04 L334.06,106.96 L335.22,105.87 L336.38,104.78 L337.54,103.68 L338.70,102.58 L339.86,101.47 L341.03,100.35 L342.19,99.23 L343.35,98.10 L344.51,96.97 L345.67,95.82 L346.83,94.68 L347.99,93.52 L349.16,92.36 L350.32,91.20 L351.48,90.03 L352.64,88.85 L353.80,87.66 L354.96,86.47 L356.12,85.27 L357.29,84.07 L358.45,82.85 L359.61,81.64 L360.77,80.41 L361.93,79.18 L363.09,77.94 L364.25,76.69 L365.41,75.44 L366.58,74.18 L367.74,72.91 L368.90,71.63 L370.06,70.35 L371.22,69.06 L372.38,67.76 L373.54,66.46 L374.71,65.14 L375.87,63.82 L377.03,62.49 L378.19,61.16 L379.35,59.81 L380.51,58.46 L381.67,57.10 L382.84,55.73 L384.00,54.36 L385.16,52.97 L386.32,51.58 L387.48,50.18 L388.64,48.77 L389.80,47.35 L390.97,45.92 L392.13,44.49 L393.29,43.04 L394.45,41.59 L395.61,40.13 L396.77,38.66 L397.93,37.18 L399.10,35.69 L400.26,34.19 L401.42,32.68 L402.58,31.16 L403.74,29.64 L404.90,28.10 L406.06,26.55 L407.22,25.00 L408.39,23.43 L409.55,21.85 L410.71,20.27 L411.87,18.67 L413.03,17.06 L414.19,15.45 L415.35,13.82 L416.52,12.18 L417.68,10.53 L418.84,8.87 L420.00,7.20" fill="none" stroke="#000000" stroke-width="2.50" stroke-dasharray="1.05 3.33" stroke-dashoffset="0.00"/>
<text class="b" x="69.30" y="280.8" font-size="15.4" text-anchor="middle">0</text>
<text class="b" x="129.18" y="280.8" font-size="15.4">0.</text>
<path d="M147.84,280.80 L145.61,280.80 L145.61,273.18 L143.08,273.18 L143.08,271.68 L144.33,271.51 L145.64,270.79 L146.49,269.87 L147.84,269.87Z" fill="#000"/>
<text class="b" x="211.26" y="280.8" font-size="15.4" text-anchor="middle">0.2</text>
<text class="b" x="281.84" y="280.8" font-size="15.4" text-anchor="middle">0.3</text>
<text class="b" x="352.42" y="280.8" font-size="15.4" text-anchor="middle">0.4</text>
<text class="b" x="423.00" y="280.8" font-size="15.4" text-anchor="middle">0.5</text>
<text class="b" x="60.8" y="267.00" font-size="15.4" text-anchor="end">0</text>
<text class="b" x="60.8" y="216.06" font-size="15.4" text-anchor="end">0.2</text>
<text class="b" x="60.8" y="165.12" font-size="15.4" text-anchor="end">0.4</text>
<text class="b" x="60.8" y="114.18" font-size="15.4" text-anchor="end">0.6</text>
<text class="b" x="60.8" y="63.24" font-size="15.4" text-anchor="end">0.8</text>
<path d="M57.26,12.00 L55.03,12.00 L55.03,4.38 L52.50,4.38 L52.50,2.88 L53.75,2.71 L55.06,1.99 L55.90,1.07 L57.26,1.07Z" fill="#000"/>
<text class="b" x="234.9" y="300.6" font-size="18.6">y<tspan font-size="15" dy="5.0" dx="-0.9">p</tspan></text>
<text x="336.2" y="169.90" font-size="14.8" text-anchor="end" fill="#0000ff" stroke="#0000ff">QMC<tspan stroke="none" font-family='"Liberation Serif", serif' font-weight="normal" font-size="15.6">δ</tspan></text>
<path d="M344.20,165.60 H402.65" fill="none" stroke="#0000ff" stroke-width="2.70" stroke-dasharray="0.6 8.35" stroke-linecap="round"/>
<text x="336.6" y="184.80" font-size="14.8" text-anchor="end" fill="#c06000" stroke="#c06000">QMC</text>
<path d="M343.15,181.30 H401.95" fill="none" stroke="#c06000" stroke-width="2.50" stroke-dasharray="18 9.3 0.5 7.25 0.5 8.75" stroke-linecap="round"/>
<text x="336.6" y="201.50" font-size="14.8" text-anchor="end" fill="#008a00" stroke="#008a00">NL3</text>
<path d="M343.50,196.50 H396.90" fill="none" stroke="#008a00" stroke-width="2.60" stroke-dasharray="7.7 7.95" stroke-linecap="round"/>
<text x="338.3" y="217.60" font-size="14.8" text-anchor="end" fill="#00cc00" stroke="#00cc00">NL3<tspan stroke="none" font-family='"Liberation Serif", serif' font-weight="normal" font-size="15.6">δ</tspan></text>
<path d="M344.90,213.60 H404.50" fill="none" stroke="#00cc00" stroke-width="2.60" stroke-dasharray="13 7.2 0.5 7.2" stroke-linecap="round"/>
<text x="335.8" y="234.20" font-size="14.8" text-anchor="end" fill="#ff0000" stroke="#ff0000">TW</text>
<path d="M342.60,230.60 H403.40" fill="none" stroke="#ff0000" stroke-width="2.50"/>
<text x="337" y="250.10" font-size="14.8" text-anchor="end" fill="#803000" stroke="#803000">BHF</text>
<path d="M343.75,246.00 H388.85" fill="none" stroke="#803000" stroke-width="2.30" stroke-dasharray="14.8 16.4" stroke-linecap="round"/>
<text x="184.0" y="242" font-size="18.5" style="font-family:'Liberation Serif', serif;font-weight:normal">ρ</text>
<text class="b" x="192.8" y="242" font-size="17.4">=0.06 fm<tspan font-size="13.9" dy="-7.4">−3</tspan></text>
<text transform="translate(81.40,242.52) rotate(-21)" font-size="19" style="font-family:'Liberation Serif', serif;font-weight:normal;">ρ</text>
<text class="b" transform="translate(89.88,248.74) rotate(-21)" font-size="13.9">p</text>
<text transform="translate(105.30,233.32) rotate(-21)" font-size="19" style="font-family:'Liberation Serif', serif;font-weight:normal;">ρ</text>
<text class="b" transform="translate(115.38,235.46) rotate(-21)" font-size="13.9">n</text>
<path d="M98.3,222.9 L100.1,235.3" stroke="#000" stroke-width="1.35" fill="none"/>
<g transform="translate(17.2,168.8) rotate(-90)"><text transform="translate(-1.10,0.00) scale(1.12,1)" font-size="23" style="font-family:'Liberation Serif', serif;font-weight:normal;">δ</text><text x="9.30" y="0.00" font-size="23" style="font-family:'Liberation Serif', serif;font-weight:normal;">ρ</text><text x="18.20" y="4.80" font-size="15" class="b">p</text><text x="21.40" y="-8.35" font-size="14.3" class="b">−</text><text x="31.00" y="0.00" font-size="19" style="font-weight:normal;">/</text><text transform="translate(34.70,0.00) scale(1.12,1)" font-size="23" style="font-family:'Liberation Serif', serif;font-weight:normal;">δ</text><text x="44.60" y="0.00" font-size="23" style="font-family:'Liberation Serif', serif;font-weight:normal;">ρ</text><text x="56.20" y="4.80" font-size="15" class="b">n</text><text x="58.40" y="-8.35" font-size="14.3" class="b">−</text></g>
</g></svg></body></html>
